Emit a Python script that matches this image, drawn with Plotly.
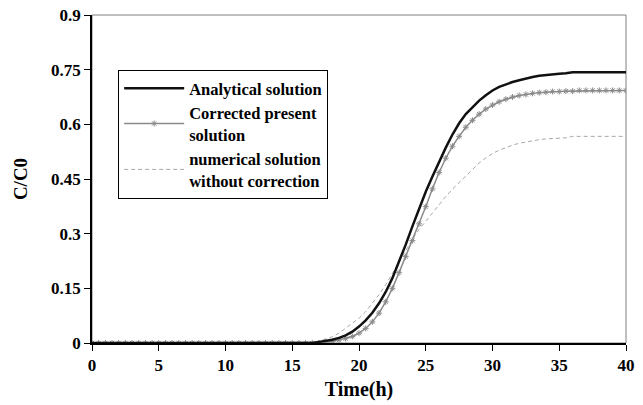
import plotly.graph_objects as go

# Time axis (hours), sampled every half hour
time_h = [i * 0.5 for i in range(81)]

# Analytical solution C/C0
analytical = [0.0] * 34 + [
    0.003, 0.005, 0.009, 0.014, 0.021, 0.031, 0.045, 0.062, 0.083, 0.109,
    0.140, 0.178, 0.222, 0.270, 0.320, 0.369, 0.415, 0.457, 0.497, 0.536,
    0.572, 0.603, 0.628, 0.648, 0.665, 0.680, 0.693, 0.703, 0.710, 0.716,
    0.721, 0.726, 0.730, 0.733, 0.735, 0.739, 0.739, 0.740, 0.743,
] + [0.743] * 8

# Corrected present solution C/C0
corrected = [0.0] * 35 + [
    0.002, 0.004, 0.008, 0.012, 0.018, 0.027, 0.040, 0.058, 0.082, 0.113,
    0.150, 0.193, 0.237, 0.281, 0.327, 0.374, 0.423, 0.468, 0.507, 0.540,
    0.567, 0.592, 0.611, 0.628, 0.642, 0.653, 0.662, 0.669, 0.675, 0.679,
    0.682, 0.685, 0.687, 0.688, 0.690, 0.690, 0.691, 0.691,
] + [0.693] * 8

# Numerical solution without correction C/C0
uncorrected = [0.0] * 33 + [
    0.002, 0.005, 0.010, 0.017, 0.027, 0.040, 0.053, 0.068, 0.086, 0.108,
    0.133, 0.160, 0.190, 0.220, 0.253, 0.284, 0.312, 0.334, 0.357, 0.380,
    0.402, 0.422, 0.440, 0.458, 0.478, 0.494, 0.508, 0.520, 0.529, 0.537,
    0.543, 0.548, 0.552, 0.555, 0.558, 0.560, 0.561, 0.562, 0.563,
] + [0.567] * 9

x_ticks = [0, 5, 10, 15, 20, 25, 30, 35, 40]
x_labels = ["0", "5", "10", "15", "20", "25", "30", "35", "40"]
y_ticks = [0, 0.15, 0.3, 0.45, 0.6, 0.75, 0.9]
y_labels = ["0", "0.15", "0.3", "0.45", "0.6", "0.75", "0.9"]

FONT = "Liberation Serif"

fig = go.Figure()

fig.add_trace(go.Scatter(
    x=time_h, y=uncorrected, mode="lines",
    name="numerical solution<br>without correction",
    line=dict(color="#a8a8a8", width=1, dash="4px,3px"),
))
fig.add_trace(go.Scatter(
    x=time_h, y=corrected, mode="lines+markers",
    name="Corrected present<br>solution",
    line=dict(color="#8a8a8a", width=1.5),
    marker=dict(symbol="asterisk-open", size=5, color="#8a8a8a",
                line=dict(color="#8a8a8a", width=1)),
))
fig.add_trace(go.Scatter(
    x=time_h, y=analytical, mode="lines",
    name="Analytical solution",
    line=dict(color="#111111", width=2.5),
))

# thin grey frame along the top and right edges of the plot area
fig.add_shape(type="rect", xref="paper", yref="paper", x0=0, y0=0, x1=1, y1=1,
              line=dict(color="#808080", width=1), layer="below")

fig.update_layout(
    width=643, height=405,
    margin=dict(l=92, r=17, t=15, b=62, autoexpand=False),
    paper_bgcolor="white", plot_bgcolor="white",
    font=dict(family=FONT, color="black", size=17, weight="bold"),
    showlegend=True,
    legend=dict(
        x=0.049, y=0.832, xanchor="left", yanchor="top",
        traceorder="reversed",
        bgcolor="white", bordercolor="black", borderwidth=1,
        font=dict(family=FONT, size=16.5, color="black", weight="bold"),
        itemwidth=60, tracegroupgap=0,
    ),
    xaxis=dict(
        range=[0, 40], tickvals=x_ticks, automargin=False,
        ticktext=[f"<b>{t}</b>" for t in x_labels],
        ticks="outside", ticklen=6, ticklabeloverflow="allow",
        tickcolor="black", showline=True, linecolor="black", linewidth=1.5,
        showgrid=False, zeroline=False,
        tickfont=dict(family=FONT, size=17, weight="bold"),
        title=dict(text="Time(h)", font=dict(family=FONT, size=20, weight="bold"),
                   standoff=8),
    ),
    yaxis=dict(
        range=[0, 0.9], tickvals=y_ticks, automargin=False,
        ticktext=[f"<b>{t}</b>" for t in y_labels],
        ticks="outside", ticklen=6,
        tickcolor="black", showline=True, linecolor="black", linewidth=1.5,
        showgrid=False, zeroline=False,
        tickfont=dict(family=FONT, size=17, weight="bold"),
        title=dict(text="C/C0", font=dict(family=FONT, size=19, weight="bold"),
                   standoff=18),
    ),
)

fig.write_html("out.html")
